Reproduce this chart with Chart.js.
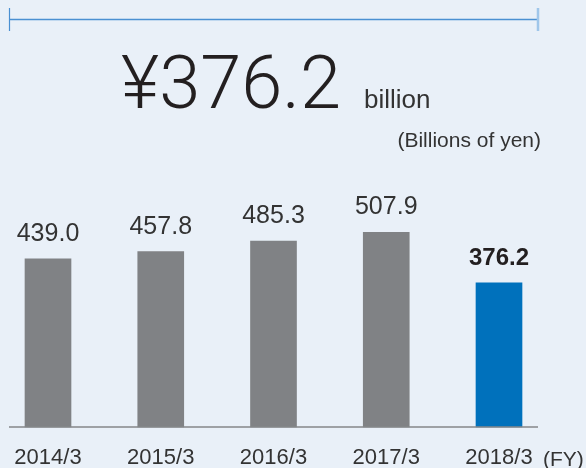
<!DOCTYPE html>
<html>
<head>
<meta charset="utf-8">
<script src="https://cdn.jsdelivr.net/npm/chart.js@4/dist/chart.umd.min.js"></script>
<style>
  html, body { margin: 0; padding: 0; background: #e9f0f8; width: 586px; height: 468px; overflow: hidden; }
  #wrap { position: relative; width: 586px; height: 468px; overflow: hidden; }
  canvas { position: absolute; left: 0; top: 0; }
</style>
</head>
<body>
<div id="wrap"><canvas id="c" width="586" height="489"></canvas></div>
<script>
// Fiscal years and values (billions of yen)
const categories = ['2014/3', '2015/3', '2016/3', '2017/3', '2018/3'];
const values = [439.0, 457.8, 485.3, 507.9, 376.2];
const barColors = ['#808285', '#808285', '#808285', '#808285', '#0071bc'];
const highlightIndex = 4;
const unitWord = 'billion';
const unitNote = '(Billions of yen)';
const fyLabel = '(FY)';

const SANS = '"Liberation Sans", Arial, Helvetica, sans-serif';
const TEXT = '#333333';

// Headline, unit notes, top bracket, value labels and baseline
const decorations = {
  id: 'decorations',
  afterDatasetsDraw(chart) {
    const { ctx, scales: { x, y } } = chart;
    const zeroY = y.getPixelForValue(0);
    // baseline running a little past the outer bars
    ctx.save();
    ctx.strokeStyle = '#85878a';
    ctx.lineWidth = 1.5;
    ctx.beginPath();
    ctx.moveTo(x.getPixelForValue(0) - 39, zeroY);
    ctx.lineTo(x.getPixelForValue(categories.length - 1) + 39, zeroY);
    ctx.stroke();
    ctx.restore();
  },
  afterDraw(chart) {
    const { ctx } = chart;
    const meta = chart.getDatasetMeta(0);
    ctx.save();
    ctx.textBaseline = 'alphabetic';

    // value labels above each bar
    ctx.textAlign = 'center';
    meta.data.forEach((bar, i) => {
      if (i === highlightIndex) {
        ctx.font = 'bold 24px ' + SANS;
        ctx.fillStyle = '#231f20';
      } else {
        ctx.font = '25px ' + SANS;
        ctx.fillStyle = TEXT;
      }
      ctx.fillText(values[i].toFixed(1), bar.x, bar.y - 18);
    });

    // headline figure
    ctx.textAlign = 'left';
    ctx.fillStyle = '#231f20';
    ctx.font = '300 74px Roboto, ' + SANS;
    ctx.fillText('\u00a5' + values[highlightIndex].toFixed(1), 121, 108);
    ctx.font = '26px ' + SANS;
    ctx.fillStyle = '#333333';
    ctx.fillText(unitWord, 364, 108);

    // unit note
    ctx.textAlign = 'right';
    ctx.font = '21px ' + SANS;
    ctx.fillText(unitNote, 541, 147);

    // fiscal-year marker next to the last category label
    ctx.textAlign = 'left';
    ctx.font = '21px ' + SANS;
    ctx.fillText(fyLabel, 543, 466);

    // bracket across the top
    ctx.strokeStyle = '#4a90d2';
    ctx.lineWidth = 1.5;
    ctx.beginPath();
    ctx.moveTo(9, 19.5);
    ctx.lineTo(538, 19.5);
    ctx.stroke();
    ctx.lineWidth = 1.2;
    ctx.beginPath();
    ctx.moveTo(9.5, 8);
    ctx.lineTo(9.5, 31);
    ctx.stroke();
    ctx.strokeStyle = '#9fc6ea';
    ctx.lineWidth = 2.5;
    ctx.beginPath();
    ctx.moveTo(538, 8);
    ctx.lineTo(538, 31);
    ctx.stroke();
    ctx.restore();
  }
};

new Chart(document.getElementById('c'), {
  type: 'bar',
  data: {
    labels: categories,
    datasets: [{
      data: values,
      backgroundColor: barColors,
      barThickness: 46,
      borderWidth: 0,
      clip: false
    }]
  },
  options: {
    responsive: false,
    animation: false,
    devicePixelRatio: 1,
    layout: { padding: { top: 197, left: 48, right: 87, bottom: 0 } },
    plugins: { legend: { display: false }, tooltip: { enabled: false } },
    scales: {
      x: {
        offset: false,
        grid: { display: false, drawTicks: false },
        border: { display: false },
        ticks: {
          color: TEXT,
          font: { family: SANS, size: 22, lineHeight: 2.82 },
          padding: 0,
          maxRotation: 0,
          autoSkip: false
        }
      },
      y: { display: false, min: 0, max: 600 }
    }
  },
  plugins: [decorations]
});
</script>
</body>
</html>
